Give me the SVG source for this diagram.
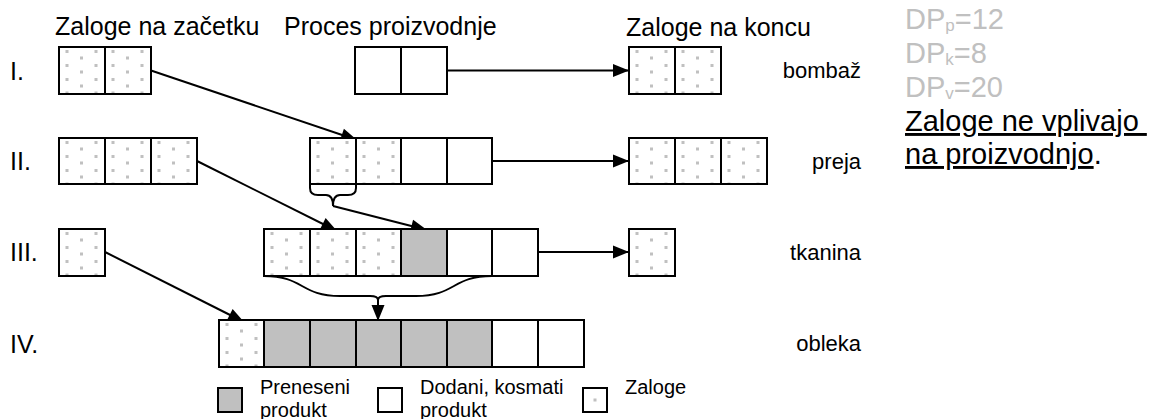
<svg xmlns="http://www.w3.org/2000/svg" width="1151" height="419" viewBox="0 0 1151 419">
  <style>
    text{font-family:"Liberation Sans",Arial,sans-serif;fill:#000}
    .head{font-size:25px}
    .row{font-size:25px}
    .item{font-size:22px;text-anchor:end}
    .legend{font-size:20px}
    .note{font-size:29px}
    .dp{fill:#c0c0c0}
    .cell{stroke:#000;stroke-width:2}
    .stock{fill:url(#dots)}
    .added{fill:#fff}
    .moved{fill:#c0c0c0}
    .conn{fill:none;stroke:#000;stroke-width:2}
    .arrow{marker-end:url(#head)}
  </style>
  <defs>
    <!-- stock cell: white with a staggered grid of small grey dots -->
    <pattern id="dots" patternUnits="objectBoundingBox" width="1" height="1" patternContentUnits="userSpaceOnUse">
      <rect width="46" height="47" fill="#fff"/>
      <g fill="#c0c0c0">
        <rect x="6.5" y="3" width="3" height="3"/>
        <rect x="6.5" y="17" width="3" height="3"/>
        <rect x="6.5" y="31" width="3" height="3"/>
        <rect x="6.5" y="44.5" width="3" height="3"/>
        <rect x="35.5" y="3" width="3" height="3"/>
        <rect x="35.5" y="17" width="3" height="3"/>
        <rect x="35.5" y="31" width="3" height="3"/>
        <rect x="35.5" y="44.5" width="3" height="3"/>
        <rect x="21" y="9.5" width="3" height="3"/>
        <rect x="21" y="23.5" width="3" height="3"/>
        <rect x="21" y="37.5" width="3" height="3"/>
      </g>
    </pattern>
    <marker id="head" markerUnits="userSpaceOnUse" markerWidth="16" markerHeight="13" refX="16" refY="6.5" orient="auto" overflow="visible">
      <path d="M0,0 L16,6.5 L0,13 z" fill="#000"/>
    </marker>
  </defs>

  <rect width="1151" height="419" fill="#fff"/>

  <!-- column headers -->
  <g id="headers">
    <text class="head" x="55" y="35">Zaloge na začetku</text>
    <text class="head" x="284" y="35">Proces proizvodnje</text>
    <text class="head" x="626" y="36">Zaloge na koncu</text>
  </g>

  <!-- row numbers -->
  <g id="row-labels">
    <text class="row" x="10" y="80">I.</text>
    <text class="row" x="10" y="170">II.</text>
    <text class="row" x="10" y="261">III.</text>
    <text class="row" x="10" y="353">IV.</text>
  </g>

  <!-- product names -->
  <g id="product-labels">
    <text class="item" x="861" y="78">bombaž</text>
    <text class="item" x="861" y="169">preja</text>
    <text class="item" x="861" y="260">tkanina</text>
    <text class="item" x="861" y="351">obleka</text>
  </g>

  <!-- flows between stages (drawn under the cells) -->
  <g id="connectors">
    <path class="conn arrow" d="M151,70.5 L357,140"/>
    <path class="conn arrow" d="M197,161 L337,231"/>
    <path class="conn arrow" d="M105,252 L244,322"/>
    <path class="conn arrow" d="M447,70.5 L629,70.5"/>
    <path class="conn arrow" d="M492,161 L629,161"/>
    <path class="conn arrow" d="M538,252 L629,252"/>
    <!-- brace under the yarn stock cell -->
    <path class="conn" d="M310,184 L310,188 Q310,195 318,195 L326,195 Q333,195 333,206 Q333,195 340,195 L348,195 Q356,195 356,188 L356,184"/>
    <path class="conn arrow" d="M333,206 L427,230"/>
    <!-- brace under the fabric cells -->
    <path class="conn" d="M264,276 C304,276 300,296 340,296 L370,296 Q378,296 378,300 Q378,296 386,296 L416,296 C456,296 452,276 492,276"/>
    <path class="conn arrow" d="M378,299 L378,321"/>
  </g>

  <!-- I. bombaž -->
  <g id="stock-start-1">
    <rect class="cell stock" x="59" y="47" width="46" height="47"/>
    <rect class="cell stock" x="105" y="47" width="46" height="47"/>
  </g>
  <g id="process-1">
    <rect class="cell added" x="355" y="47" width="46" height="47"/>
    <rect class="cell added" x="401" y="47" width="46" height="47"/>
  </g>
  <g id="stock-end-1">
    <rect class="cell stock" x="629" y="47" width="46" height="47"/>
    <rect class="cell stock" x="675" y="47" width="46" height="47"/>
  </g>

  <!-- II. preja -->
  <g id="stock-start-2">
    <rect class="cell stock" x="59" y="138" width="46" height="46"/>
    <rect class="cell stock" x="105" y="138" width="46" height="46"/>
    <rect class="cell stock" x="151" y="138" width="46" height="46"/>
  </g>
  <g id="process-2">
    <rect class="cell stock" x="310" y="138" width="46" height="46"/>
    <rect class="cell stock" x="356" y="138" width="45" height="46"/>
    <rect class="cell added" x="401" y="138" width="46" height="46"/>
    <rect class="cell added" x="447" y="138" width="45" height="46"/>
  </g>
  <g id="stock-end-2">
    <rect class="cell stock" x="629" y="138" width="46" height="46"/>
    <rect class="cell stock" x="675" y="138" width="46" height="46"/>
    <rect class="cell stock" x="721" y="138" width="46" height="46"/>
  </g>

  <!-- III. tkanina -->
  <g id="stock-start-3">
    <rect class="cell stock" x="59" y="229" width="46" height="47"/>
  </g>
  <g id="process-3">
    <rect class="cell stock" x="264" y="229" width="46" height="47"/>
    <rect class="cell stock" x="310" y="229" width="46" height="47"/>
    <rect class="cell stock" x="356" y="229" width="45" height="47"/>
    <rect class="cell moved" x="401" y="229" width="46" height="47"/>
    <rect class="cell added" x="447" y="229" width="45" height="47"/>
    <rect class="cell added" x="492" y="229" width="46" height="47"/>
  </g>
  <g id="stock-end-3">
    <rect class="cell stock" x="629" y="229" width="46" height="47"/>
  </g>

  <!-- IV. obleka -->
  <g id="process-4">
    <rect class="cell stock" x="219" y="320" width="45" height="47"/>
    <rect class="cell moved" x="264" y="320" width="46" height="47"/>
    <rect class="cell moved" x="310" y="320" width="46" height="47"/>
    <rect class="cell moved" x="356" y="320" width="45" height="47"/>
    <rect class="cell moved" x="401" y="320" width="46" height="47"/>
    <rect class="cell moved" x="447" y="320" width="45" height="47"/>
    <rect class="cell added" x="492" y="320" width="46" height="47"/>
    <rect class="cell added" x="538" y="320" width="46" height="47"/>
  </g>

  <!-- legend -->
  <g id="legend-moved">
    <rect class="cell moved" x="218" y="388" width="24" height="24"/>
    <text class="legend" x="260" y="394">Preneseni</text>
    <text class="legend" x="260" y="417">produkt</text>
  </g>
  <g id="legend-added">
    <rect class="cell added" x="378" y="388" width="24" height="24"/>
    <text class="legend" x="420" y="394">Dodani, kosmati</text>
    <text class="legend" x="420" y="417">produkt</text>
  </g>
  <g id="legend-stock">
    <rect class="cell added" x="583" y="388" width="24" height="24"/>
    <rect x="593.5" y="398.5" width="3" height="3" fill="#c0c0c0"/>
    <text class="legend" x="625" y="394">Zaloge</text>
  </g>

  <!-- notes on the right -->
  <g id="notes">
    <text class="note dp" x="905" y="29">DP<tspan font-size="17" dy="2">p</tspan><tspan dy="-2">=12</tspan></text>
    <text class="note dp" x="905" y="63">DP<tspan font-size="17" dy="2">k</tspan><tspan dy="-2">=8</tspan></text>
    <text class="note dp" x="905" y="97">DP<tspan font-size="17" dy="2">v</tspan><tspan dy="-2">=20</tspan></text>
    <text class="note" x="905" y="131"><tspan text-decoration="underline">Zaloge ne vplivajo&#160;</tspan></text>
    <text class="note" x="905" y="164"><tspan text-decoration="underline">na proizvodnjo</tspan>.</text>
  </g>
</svg>
